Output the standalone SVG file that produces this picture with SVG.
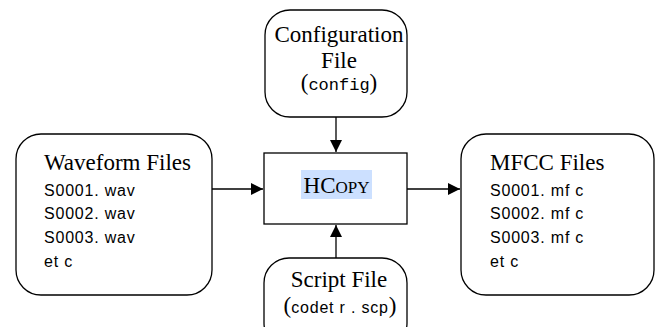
<svg xmlns="http://www.w3.org/2000/svg" width="656" height="327" viewBox="0 0 656 327">
<style>
.box{fill:#fff;stroke:#000;stroke-width:1.3}
.serif{font-family:"Liberation Serif","Times New Roman",serif;fill:#000;font-size:23px}
.sans{font-family:"Liberation Sans",Arial,sans-serif;font-size:16px;letter-spacing:0.8px;fill:#000}
.mono{font-family:"Liberation Mono","Courier New",monospace;font-size:17px;fill:#000}
.conn{stroke:#000;stroke-width:1.3;fill:none}
</style>
<defs>
<marker id="ah" viewBox="0 0 10 10" refX="10" refY="5" markerWidth="12" markerHeight="12" markerUnits="userSpaceOnUse" orient="auto">
<path d="M0,0 L10,5 L0,10 z" fill="#000"/>
</marker>
</defs>
<rect width="656" height="327" fill="#fff"/>
<g id="connectors">
<line class="conn" x1="212" y1="189" x2="263" y2="189" marker-end="url(#ah)"/>
<line class="conn" x1="407" y1="189" x2="460" y2="189" marker-end="url(#ah)"/>
<line class="conn" x1="336" y1="117" x2="336" y2="152" marker-end="url(#ah)"/>
<line class="conn" x1="336" y1="258" x2="336" y2="225" marker-end="url(#ah)"/>
</g>
<g id="waveform">
<rect class="box" x="16" y="134" width="196" height="161" rx="25"/>
<text class="serif" x="44" y="170">Waveform Files</text>
<text class="sans" x="44" y="196">S0001. wav</text>
<text class="sans" x="44" y="219">S0002. wav</text>
<text class="sans" x="44" y="243">S0003. wav</text>
<text class="sans" x="44" y="267">et c</text>
</g>
<g id="config">
<rect class="box" x="265" y="10" width="142" height="107" rx="25"/>
<text class="serif" x="339" y="42" text-anchor="middle">Configuration</text>
<text class="serif" x="339" y="68" text-anchor="middle">File</text>
<text x="339" y="90" text-anchor="middle"><tspan class="serif">(</tspan><tspan class="mono">config</tspan><tspan class="serif">)</tspan></text>
</g>
<g id="hcopy">
<rect class="box" x="264" y="153" width="143" height="71"/>
<rect x="301" y="170" width="71" height="29" fill="#cce0ff"/>
<text class="serif" x="336.5" y="193" text-anchor="middle">HC<tspan font-size="17">OPY</tspan></text>
</g>
<g id="script">
<rect class="box" x="264" y="258" width="143" height="90" rx="25"/>
<text class="serif" x="339" y="287" text-anchor="middle">Script File</text>
<text x="340" y="313" text-anchor="middle"><tspan class="serif">(</tspan><tspan class="sans" font-size="17" letter-spacing="1.2">codet r . scp</tspan><tspan class="serif">)</tspan></text>
</g>
<g id="mfcc">
<rect class="box" x="461" y="134" width="193" height="161" rx="25"/>
<text class="serif" x="490" y="170">MFCC Files</text>
<text class="sans" x="490" y="196">S0001. mf c</text>
<text class="sans" x="490" y="219">S0002. mf c</text>
<text class="sans" x="490" y="243">S0003. mf c</text>
<text class="sans" x="490" y="267">et c</text>
</g>
</svg>
